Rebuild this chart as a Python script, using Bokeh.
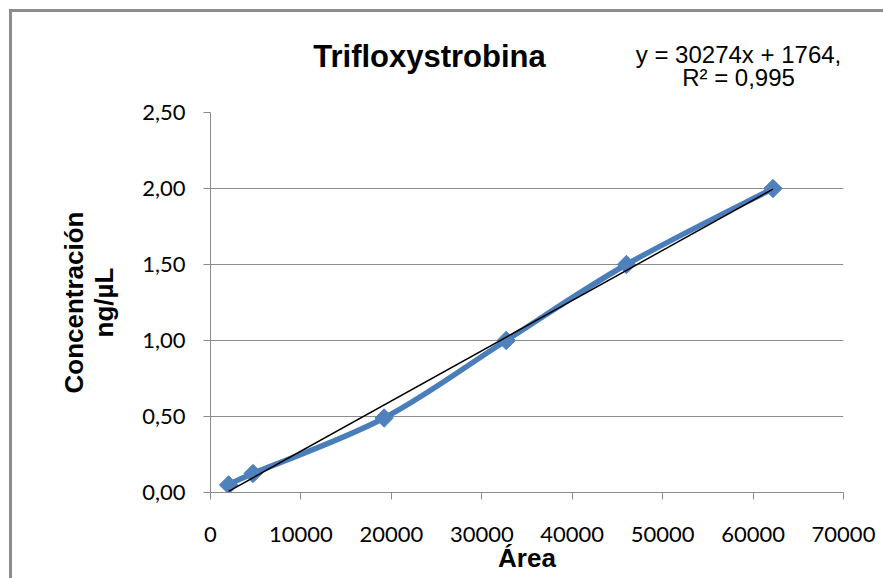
from bokeh.plotting import figure
from bokeh.models import FixedTicker, Label, ColumnDataSource, Range1d
from bokeh.layouts import column
from bokeh.embed import file_html
from bokeh.resources import INLINE
import math

# ---- data ----
area = [2000, 4700, 19200, 32700, 46000, 62200]
conc = [0.05, 0.125, 0.49, 1.00, 1.50, 2.00]
fit_slope = 30274.0      # y = 30274x + 1764  (Área = slope*Conc + intercept)
fit_intercept = 1764.0
eq_line1 = "y = 30274x + 1764,"
eq_line2 = "R² = 0,995"
title_text = "Trifloxystrobina"
x_label = "Área"
y_label = "Concentración\nng/µL"
x_ticks = [0, 10000, 20000, 30000, 40000, 50000, 60000, 70000]
x_tick_labels = ["0", "10000", "20000", "30000", "40000", "50000", "60000", "70000"]
y_ticks = [0.0, 0.5, 1.0, 1.5, 2.0, 2.5]
y_tick_labels = ["0,00", "0,50", "1,00", "1,50", "2,00", "2,50"]

GRAY = "#8c8c8c"
BLUE_LINE = "#4A7EBB"
BLUE_MARK = "#4F81BD"

W = 883
TOP_H = 96
MAIN_H = 578 - TOP_H
FL, FR = 210, 843   # plot-frame left/right edge in page pixels

# ---- header strip with title and trendline equation (pixel-space frame) ----
t = figure(width=W, height=TOP_H, output_backend="svg", toolbar_location=None,
           x_range=Range1d(FL, FR), y_range=Range1d(TOP_H, 0),
           x_axis_type=None, y_axis_type=None,
           min_border_left=FL, min_border_right=W - FR, min_border_top=0, min_border_bottom=0)
t.outline_line_color = None
t.background_fill_color = None
t.border_fill_color = None
t.grid.grid_line_color = None
t.add_layout(Label(x=429, y=56, text=title_text, text_align="center",
                   text_baseline="alphabetic", text_font="Liberation Sans",
                   text_font_style="bold", text_font_size="31px", text_color="black"))
t.add_layout(Label(x=738, y=54, text=eq_line1, text_align="center",
                   text_baseline="alphabetic", text_font="Liberation Sans",
                   text_font_size="24px", text_color="black"))
t.add_layout(Label(x=738, y=77, text=eq_line2, text_align="center",
                   text_baseline="alphabetic", text_font="Liberation Sans",
                   text_font_size="24px", text_color="black"))

# ---- main chart ----
p = figure(width=W, height=MAIN_H, output_backend="svg", toolbar_location=None,
           x_range=(0, 70000), y_range=(0, 2.5),
           min_border_left=FL, min_border_right=W - FR, min_border_top=112 - TOP_H,
           min_border_bottom=86)
p.outline_line_color = None
p.background_fill_color = None
p.border_fill_color = None

p.xaxis.ticker = FixedTicker(ticks=x_ticks)
p.yaxis.ticker = FixedTicker(ticks=y_ticks)
p.xaxis.major_label_overrides = {tk: lb for tk, lb in zip(x_ticks, x_tick_labels)}
p.yaxis.major_label_overrides = {tk: lb for tk, lb in zip(y_ticks, y_tick_labels)}
for ax in (p.xaxis[0], p.yaxis[0]):
    ax.axis_line_color = GRAY
    ax.axis_line_width = 1
    ax.major_tick_line_color = GRAY
    ax.major_tick_out = 7
    ax.major_tick_in = 0
    ax.minor_tick_line_color = None
    ax.major_label_text_font = "Lato"
    ax.major_label_text_font_size = "22px"
    ax.major_label_text_color = "black"
    ax.axis_label_text_font = "Liberation Sans"
    ax.axis_label_text_font_style = "bold"
    ax.axis_label_text_font_size = "26px"
    ax.axis_label_text_color = "black"
p.yaxis.axis_label_text_line_height = 1.0
p.xaxis.major_label_standoff = 27
p.yaxis.major_label_standoff = 18
p.xaxis.axis_label = x_label
p.yaxis.axis_label = y_label
p.xaxis.axis_label_standoff = -2
p.yaxis.axis_label_standoff = 20

p.xgrid.grid_line_color = None
p.ygrid.grid_line_color = GRAY
p.ygrid.grid_line_width = 1

# smoothed series via Catmull-Rom -> cubic bezier segments
n = len(area)
segs = dict(x0=[], y0=[], x1=[], y1=[], cx0=[], cy0=[], cx1=[], cy1=[])
for i in range(n - 1):
    xa, ya = (area[i - 1], conc[i - 1]) if i > 0 else (area[i], conc[i])
    xb, yb = area[i], conc[i]
    xc, yc = area[i + 1], conc[i + 1]
    xd, yd = (area[i + 2], conc[i + 2]) if i + 2 < n else (xc, yc)
    segs["x0"].append(xb); segs["y0"].append(yb)
    segs["x1"].append(xc); segs["y1"].append(yc)
    segs["cx0"].append(xb + (xc - xa) / 6); segs["cy0"].append(yb + (yc - ya) / 6)
    segs["cx1"].append(xc - (xd - xb) / 6); segs["cy1"].append(yc - (yd - yb) / 6)
p.bezier(x0="x0", y0="y0", x1="x1", y1="y1", cx0="cx0", cy0="cy0", cx1="cx1", cy1="cy1",
         source=ColumnDataSource(segs), line_color=BLUE_LINE, line_width=5.5)
p.scatter(area, conc, marker="square", angle=math.pi / 4, size=13,
          fill_color=BLUE_MARK, line_color=BLUE_MARK)

# linear trendline (from the fitted equation)
tx = [min(area), max(area)]
ty = [(v - fit_intercept) / fit_slope for v in tx]
p.line(tx, ty, line_color="black", line_width=1.5)

layout = column(t, p, spacing=0,
                styles={"box-shadow": "inset 9px 9px 0 0 white, inset 12px 12px 0 0 #8c8c8c",
                        "background-color": "white"})

open("out.html", "w").write(file_html(layout, INLINE))
